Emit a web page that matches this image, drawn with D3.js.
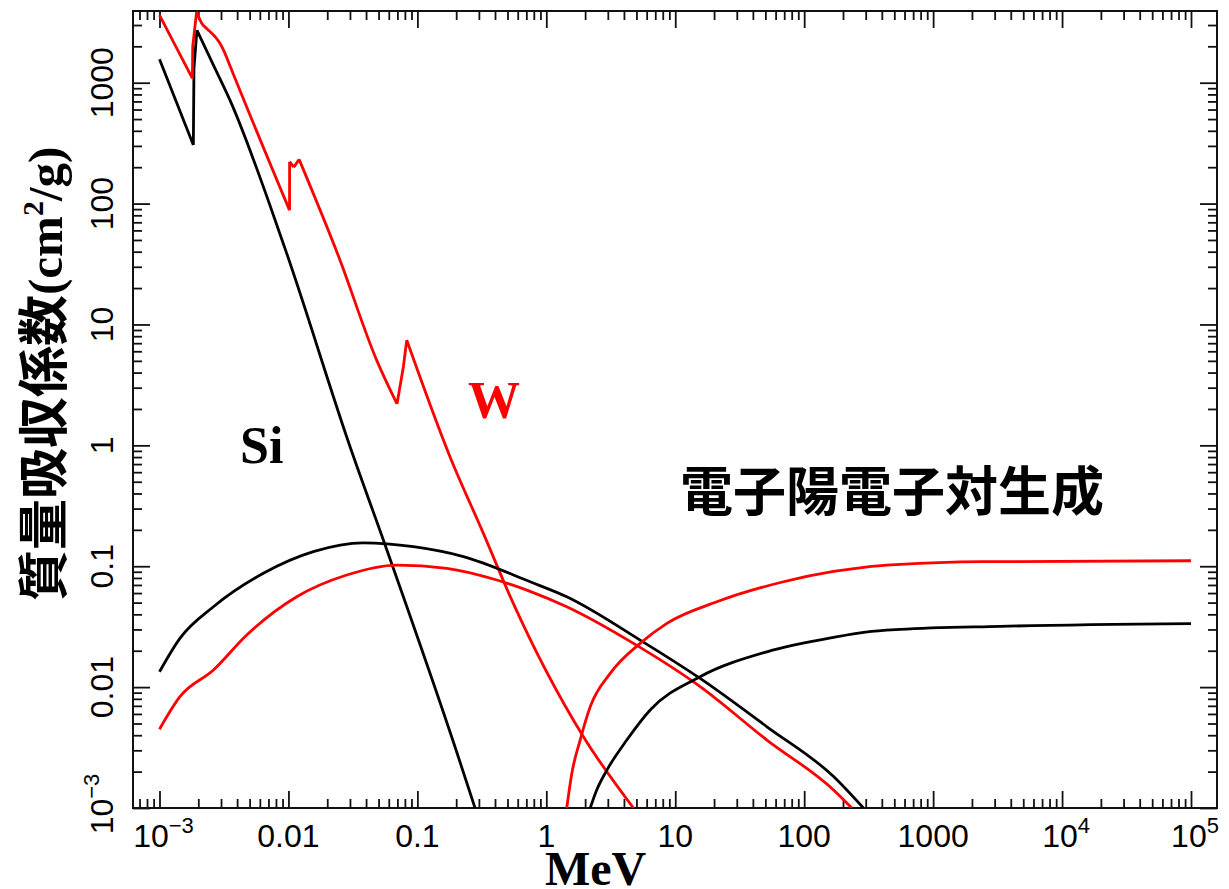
<!DOCTYPE html>
<html>
<head>
<meta charset="utf-8">
<script src="https://cdn.jsdelivr.net/npm/d3@7"></script>
<style>
  body { margin: 0; background: #fff; }
  svg { display: block; }
</style>
</head>
<body>
<svg id="chart" width="1229" height="889"></svg>
<script>
// Mass attenuation coefficients, [energy (MeV), mu/rho (cm^2/g)]
const siPhoto = [[0.001,1560],[0.00183,305],[0.00185,1300],[0.00195,2720],[0.00262,1400],[0.00352,718],[0.0094,42.6],[0.0301,0.97],[0.0562,0.150],[0.1995,0.00302],[0.28,0.001]];
const wPhoto = [[0.001,3620],[0.0018,1085],[0.00181,2000],[0.00194,3860],[0.00213,3090],[0.00232,2810],[0.0027,2400],[0.00295,2110],[0.00322,1750],[0.00342,1490],[0.0102,88],[0.01021,222],[0.0110,200],[0.0121,232],[0.0245,36.5],[0.0484,5.05],[0.0695,2.2],[0.0779,4.47],[0.0827,7.43],[0.179,0.805],[0.325,0.187],[0.54,0.0525],[1.94,0.00389],[4.74,0.001]];
const siCompton = [[0.001,0.0134],[0.00144,0.0253],[0.00262,0.0462],[0.00639,0.0874],[0.0156,0.132],[0.0381,0.156],[0.0931,0.145],[0.2275,0.120],[0.749,0.0744],[1.44,0.0559],[5.34,0.0245],[15.6,0.0118],[51.4,0.0047],[169,0.00182],[288,0.001]];
const wCompton = [[0.001,0.00448],[0.00144,0.00833],[0.00262,0.01385],[0.00475,0.027],[0.0116,0.0559],[0.0283,0.0846],[0.0692,0.1023],[0.169,0.0961],[0.413,0.0769],[0.749,0.062],[1.44,0.0462],[4.74,0.023],[15.6,0.0101],[51.4,0.00365],[169,0.00141],[234,0.001]];
const siPair = [[2.19,0.001],[2.46,0.00141],[2.95,0.00206],[4.21,0.00365],[6.39,0.00647],[15.6,0.0122],[51.4,0.0196],[169,0.0258],[300,0.0285],[556,0.0300],[3315,0.0318],[1e5,0.0335]];
const wPair = [[1.44,0.001],[1.578,0.00194],[1.83,0.00365],[2.19,0.00689],[3.13,0.013],[5.34,0.023],[8.61,0.0337],[21.0,0.0508],[69.1,0.0744],[169,0.0905],[300,0.0985],[556,0.1035],[2450,0.109],[1e5,0.111]];

// Axis ticks and their labels ([base, superscript])
const xTickValues = [1e-3, 1e-2, 1e-1, 1, 10, 100, 1000, 1e4, 1e5];
const xTickLabels = [["10","−3"],["0.01"],["0.1"],["1"],["10"],["100"],["1000"],["10","4"],["10","5"]];
const yTickValues = [1e-3, 1e-2, 1e-1, 1, 10, 100, 1000];
const yTickLabels = [["10","−3"],["0.01"],["0.1"],["1"],["10"],["100"],["1000"]];

const svg = d3.select("#chart");
const frame = { left: 133, right: 1217, top: 11, bottom: 808 };

const x = d3.scaleLog().domain([1e-3, 1e5]).range([159.5, 1191]);
const y = d3.scaleLog().domain([1e-3, 1e3]).range([808, 82.7]);

// minor ticks: 2..9 in each decade that falls inside the frame
function minorTicks(scale, lo, hi) {
  const out = [];
  for (let e = -5; e <= 6; e++) {
    for (let m = 2; m <= 9; m++) {
      const v = m * Math.pow(10, e);
      const p = scale(v);
      if (p > lo + 1 && p < hi - 1) out.push(v);
    }
  }
  return out;
}
const xMinor = minorTicks(x, frame.left, frame.right);
const yMinor = minorTicks(y, frame.top, frame.bottom);

const MAJOR = 17, MINOR = 9;
function styleAxis(g) {
  g.select(".domain").remove();
  g.selectAll(".tick line").attr("stroke", "#111").attr("stroke-width", 1.8);
  g.selectAll(".tick text").remove();
}

// bottom / top
svg.append("g").attr("transform", `translate(0,${frame.bottom})`)
  .call(d3.axisBottom(x).tickValues(xTickValues).tickSize(-MAJOR).tickFormat("")).call(styleAxis);
svg.append("g").attr("transform", `translate(0,${frame.bottom})`)
  .call(d3.axisBottom(x).tickValues(xMinor).tickSize(-MINOR).tickFormat("")).call(styleAxis);
svg.append("g").attr("transform", `translate(0,${frame.top})`)
  .call(d3.axisTop(x).tickValues(xTickValues).tickSize(-MAJOR).tickFormat("")).call(styleAxis);
svg.append("g").attr("transform", `translate(0,${frame.top})`)
  .call(d3.axisTop(x).tickValues(xMinor).tickSize(-MINOR).tickFormat("")).call(styleAxis);
// left / right
svg.append("g").attr("transform", `translate(${frame.left},0)`)
  .call(d3.axisLeft(y).tickValues(yTickValues).tickSize(-MAJOR).tickFormat("")).call(styleAxis);
svg.append("g").attr("transform", `translate(${frame.left},0)`)
  .call(d3.axisLeft(y).tickValues(yMinor).tickSize(-MINOR).tickFormat("")).call(styleAxis);
svg.append("g").attr("transform", `translate(${frame.right},0)`)
  .call(d3.axisRight(y).tickValues(yTickValues).tickSize(-MAJOR).tickFormat("")).call(styleAxis);
svg.append("g").attr("transform", `translate(${frame.right},0)`)
  .call(d3.axisRight(y).tickValues(yMinor).tickSize(-MINOR).tickFormat("")).call(styleAxis);

// frame
svg.append("rect")
  .attr("x", frame.left).attr("y", frame.top)
  .attr("width", frame.right - frame.left).attr("height", frame.bottom - frame.top)
  .attr("fill", "none").attr("stroke", "#111").attr("stroke-width", 2);

// curves
svg.append("clipPath").attr("id", "plotClip").append("rect")
  .attr("x", frame.left).attr("y", frame.top)
  .attr("width", frame.right - frame.left).attr("height", frame.bottom - frame.top);
const plot = svg.append("g").attr("clip-path", "url(#plotClip)");

const smooth = d3.line().x(d => x(d[0])).y(d => y(d[1])).curve(d3.curveMonotoneX);
const straight = d3.line().x(d => x(d[0])).y(d => y(d[1])).curve(d3.curveLinear);

// Absorption-edge curves: falling runs are smoothed, jumps at edges stay straight
function edgePath(data) {
  const runs = [];
  let run = [data[0]], rising = null;
  for (let i = 1; i < data.length; i++) {
    const up = data[i][1] > data[i - 1][1];
    if (rising === null || up === rising) {
      run.push(data[i]);
    } else {
      runs.push({ pts: run, rising });
      run = [data[i - 1], data[i]];
    }
    rising = up;
  }
  runs.push({ pts: run, rising });
  return runs.map(r => (r.rising ? straight : smooth)(r.pts)).join("");
}

const series = [
  { data: siPhoto, color: "#000", edges: true },
  { data: wPhoto, color: "#ff0000", edges: true },
  { data: siCompton, color: "#000" },
  { data: wCompton, color: "#ff0000" },
  { data: siPair, color: "#000" },
  { data: wPair, color: "#ff0000" }
];
plot.selectAll("path.curve").data(series).join("path")
  .attr("class", "curve")
  .attr("d", d => d.edges ? edgePath(d.data) : smooth(d.data))
  .attr("fill", "none")
  .attr("stroke", d => d.color)
  .attr("stroke-width", 2.8)
  .attr("stroke-linejoin", "round");

// tick labels
const tickFont = "'Liberation Sans', Arial, sans-serif";
const xl = svg.append("g").attr("font-family", tickFont).attr("font-size", 32).attr("fill", "#000");
xTickValues.forEach((v, i) => {
  const lab = xTickLabels[i];
  const t = xl.append("text").attr("x", x(v) + (lab.length > 1 ? 4 : 0)).attr("y", 847).attr("text-anchor", "middle");
  t.append("tspan").text(lab[0]);
  if (lab.length > 1) t.append("tspan").attr("font-size", 22).attr("dy", -14).text(lab[1]);
});
const yl = svg.append("g").attr("font-family", tickFont).attr("font-size", 32).attr("fill", "#000");
yTickValues.forEach((v, i) => {
  const lab = yTickLabels[i];
  const t = yl.append("text")
    .attr("transform", `translate(113,${y(v) - (lab.length > 1 ? 4 : 0)}) rotate(-90)`)
    .attr("text-anchor", "middle");
  t.append("tspan").text(lab[0]);
  if (lab.length > 1) t.append("tspan").attr("font-size", 22).attr("dy", -14).text(lab[1]);
});

// axis titles
svg.append("text")
  .attr("x", 545).attr("y", 885)
  .attr("font-family", "'Liberation Serif', 'Times New Roman', serif")
  .attr("font-weight", "bold").attr("font-size", 48)
  .text("MeV");

const yt = svg.append("text")
  .attr("transform", "translate(62,601) rotate(-90)")
  .attr("font-weight", "bold").attr("fill", "#000");
yt.append("tspan").attr("font-family", "'Noto Sans CJK JP', sans-serif").attr("font-size", 51).text("質量吸収係数");
yt.append("tspan").attr("font-family", "'Liberation Serif', serif").attr("font-size", 49).text("(cm");
yt.append("tspan").attr("font-family", "'Liberation Serif', serif").attr("font-size", 30).attr("dy", -19).text("2");
yt.append("tspan").attr("font-family", "'Liberation Serif', serif").attr("font-size", 49).attr("dy", 19).text("/g)");

// annotations
svg.append("text").attr("x", 240).attr("y", 463)
  .attr("font-family", "'Liberation Serif', serif").attr("font-weight", "bold").attr("font-size", 52)
  .attr("fill", "#000").text("Si");
svg.append("text").attr("x", 468).attr("y", 418)
  .attr("font-family", "'Liberation Serif', serif").attr("font-weight", "bold").attr("font-size", 52)
  .attr("fill", "#ff0000").text("W");
svg.append("text").attr("x", 680).attr("y", 511)
  .attr("font-family", "'Noto Sans CJK JP', sans-serif").attr("font-weight", "bold").attr("font-size", 53)
  .attr("fill", "#000").text("電子陽電子対生成");
</script>
</body>
</html>
